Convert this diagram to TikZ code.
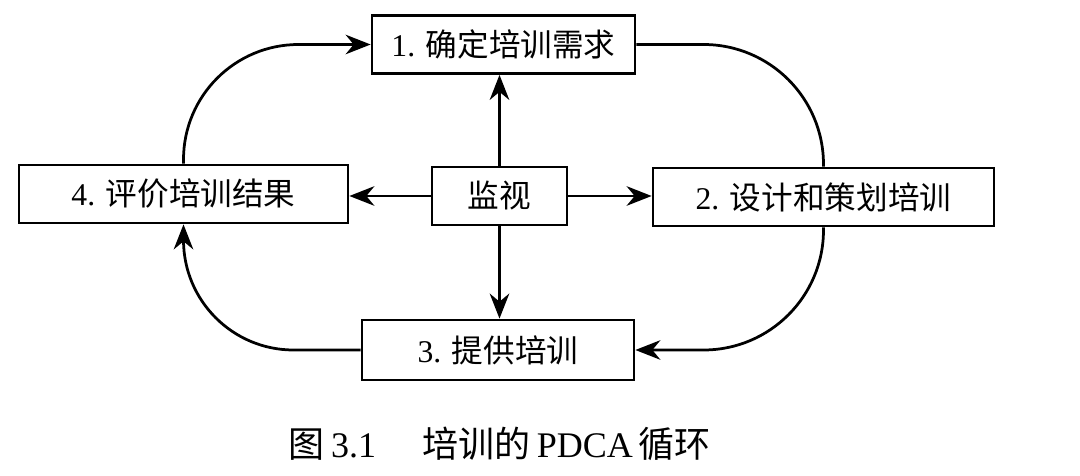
\documentclass[tikz,border=0pt]{standalone}
\usepackage{fontspec}
\setmainfont{Liberation Serif}
\newfontfamily\cjk{Noto Sans CJK SC}
\usetikzlibrary{arrows.meta}
\begin{document}
\begin{tikzpicture}[x=0.02cm,y=-0.02cm,
  box/.style={draw, line width=0.055cm, minimum height=1.16cm, inner sep=0pt,
    font=\fontsize{18}{22}\selectfont},
  conn/.style={line width=0.055cm},
  arr/.style={conn, -{Stealth[length=5mm,width=3.9mm,inset=1.6mm]}}]
\useasboundingbox[fill=white] (0,0) rectangle (1080,476);
\node[box, minimum width=5.26cm] (b1) at (503.5,44.5) {1. {\cjk 确定培训需求}};
\node[box, minimum width=6.82cm] (b2) at (823.5,197) {2. {\cjk 设计和策划培训}};
\node[box, minimum width=5.44cm, minimum height=1.2cm] (b3) at (498,350) {3. {\cjk 提供培训}};
\node[box, minimum width=6.58cm] (b4) at (183.5,194) {4. {\cjk 评价培训结果}};
\node[box, minimum width=2.7cm] (m) at (499.5,196) {\cjk 监视};
\node[font=\fontsize{20.5}{24}\selectfont] (cap) at (500,444) {{\cjk 图}\,3.1\hspace{1.3em}{\cjk 培训的}\,PDCA\,{\cjk 循环}};
% cycle connectors
\draw[conn, rounded corners=2.4cm] (b1.east) -| (b2.north);
\draw[arr, rounded corners=2.4cm] (b2.south) |- (b3.east);
\draw[arr, rounded corners=2.2cm] (b3.west) -| (b4.south);
\draw[arr, rounded corners=2.3cm] (b4.north) |- (b1.west);
% monitoring arrows
\draw[arr] (m.north) -- (m.north |- b1.south);
\draw[arr] (m.south) -- (m.south |- b3.north);
\draw[arr] (m.west) -- (m.west -| b4.east);
\draw[arr] (m.east) -- (m.east -| b2.west);
\end{tikzpicture}
\end{document}
